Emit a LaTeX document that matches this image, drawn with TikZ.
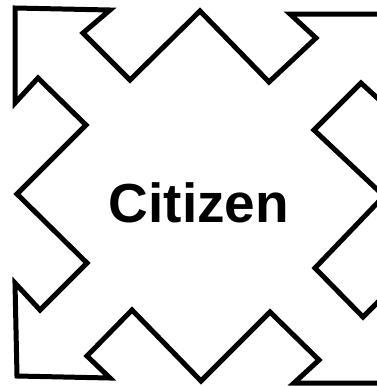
\documentclass[tikz,border=0pt]{standalone}
\usepackage{fontspec}
\setmainfont{Liberation Sans}
\usetikzlibrary{positioning}

\begin{document}
\begin{tikzpicture}[
    x=1pt, y=-1pt,
    outline/.style={draw=black, line width=5pt, line join=miter, fill=white},
    title/.style={font=\fontsize{55}{66}\selectfont\bfseries, inner sep=0pt}
]

% --- Moldura da imagem ---
\useasboundingbox (0,0) rectangle (377,386);
\clip (0,0) rectangle (377,386);

% --- Cruz com quatro setas diagonais ---
\draw[outline]
    (15,8) -- (110,10) -- (83,33) -- (130,80) -- (200,11) -- (269,82)
    -- (316,38) -- (290,14) -- (386,14) -- (386,106) -- (361,83)
    -- (314,130) -- (384,196) -- (315,268) -- (363,317) -- (386,294)
    -- (386,383) -- (294,383) -- (319,360) -- (270,312) -- (201,381)
    -- (132,310) -- (87,356) -- (110,378) -- (17,376) -- (15,283)
    -- (40,310) -- (87,263) -- (17,194) -- (86,125) -- (38,78)
    -- (15,103) -- cycle;

% --- Texto central ---
\node[title, anchor=base] (citizen) at (199,222) {Citizen};

\end{tikzpicture}
\end{document}
